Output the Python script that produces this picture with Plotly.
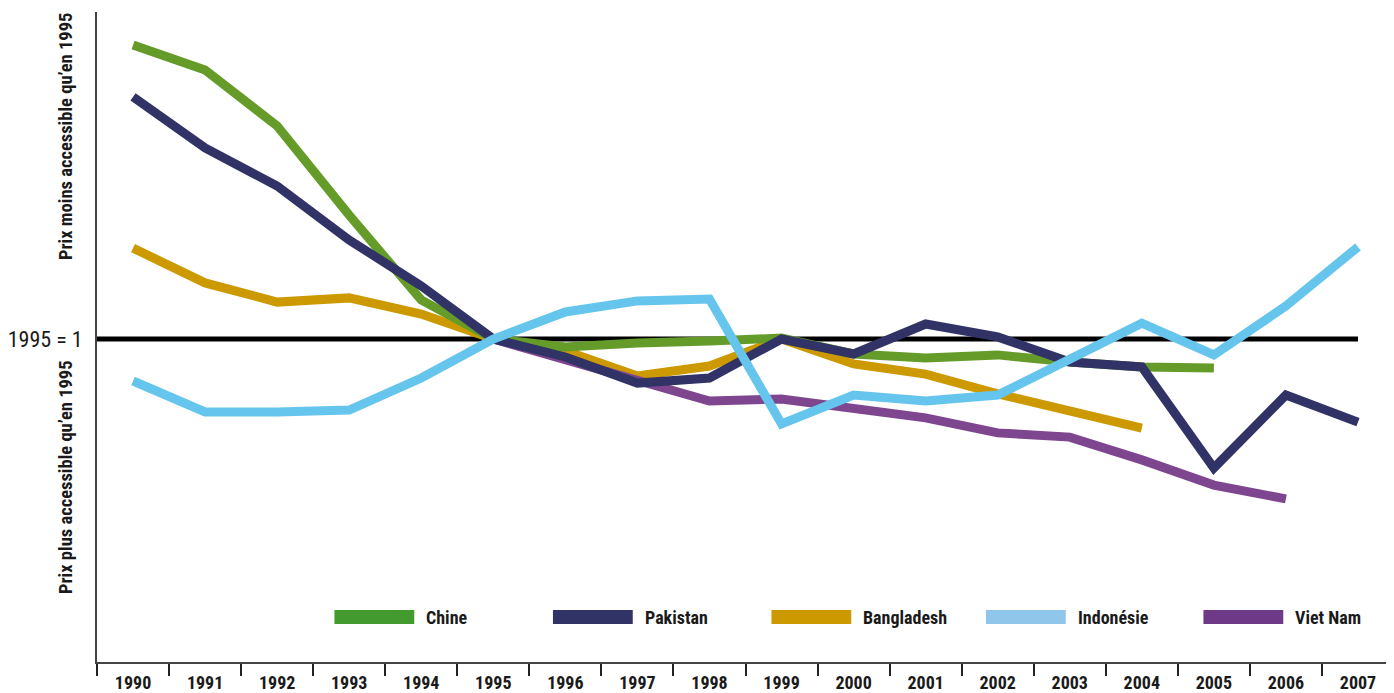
import plotly.graph_objects as go

years = [str(y) for y in range(1990, 2008)]

chine = [1.98, 1.897, 1.71, 1.413, 1.13, 1.0, 0.973, 0.987, 0.993, 1.003, 0.95, 0.937, 0.947, 0.923, 0.907, 0.903]
pakistan = [1.807, 1.637, 1.51, 1.33, 1.177, 1.0, 0.94, 0.853, 0.87, 1.0, 0.95, 1.05, 1.007, 0.923, 0.907, 0.57, 0.813, 0.723]
bangladesh = [1.303, 1.187, 1.123, 1.137, 1.083, 1.0, 0.96, 0.877, 0.91, 1.0, 0.917, 0.883, 0.817, 0.763, 0.703]
indonesie = [0.86, 0.757, 0.757, 0.763, 0.87, 1.0, 1.09, 1.127, 1.133, 0.717, 0.813, 0.793, 0.813, 0.933, 1.053, 0.947, 1.11, 1.307]
vietnam_years = [str(y) for y in range(1995, 2007)]
vietnam = [1.0, 0.93, 0.863, 0.793, 0.8, 0.77, 0.737, 0.687, 0.673, 0.597, 0.513, 0.467]

names = ["Chine", "Pakistan", "Bangladesh", "Indonésie", "Viet Nam"]
line_colors = ["#659c29", "#313366", "#cc9a00", "#66c5ec", "#7f4690"]
legend_colors = ["#439a2f", "#313366", "#cc9a00", "#8fc6ea", "#6e3a87"]

FONT = "Liberation Sans Narrow, Roboto Condensed, Arial Narrow, Liberation Sans, sans-serif"
TXT = "#1a1a1a"

fig = go.Figure()
series = [
    (years[:len(chine)], chine),
    (years[:len(pakistan)], pakistan),
    (years[:len(bangladesh)], bangladesh),
    (years[:len(indonesie)], indonesie),
    (vietnam_years, vietnam),
]
order = [2, 0, 4, 1, 3]
for i in order:
    xs, ys = series[i]
    fig.add_trace(go.Scatter(x=xs, y=ys, mode="lines", name=names[i],
                             line=dict(color=line_colors[i], width=9),
                             showlegend=False, hoverinfo="skip"))

# reference line
fig.add_shape(type="line", xref="x", yref="y", x0=-0.5, x1=17, y0=1, y1=1,
              line=dict(color="black", width=5), layer="below")

# page is offset by the 8px body margin
L, W, T, H = 86, 1300, 4, 650
def px(x):
    return (x - 8 - L) / W
def py(y):
    return (T + H - (y - 8)) / H

leg_x = [332, 551, 770, 985, 1203]
for i, n in enumerate(names):
    fig.add_shape(type="rect", xref="paper", yref="paper",
                  x0=px(leg_x[i]), x1=px(leg_x[i] + 80), y0=py(624), y1=py(610),
                  fillcolor=legend_colors[i], line=dict(width=0))
    fig.add_annotation(xref="paper", yref="paper", x=px(leg_x[i] + 90), y=py(617),
                       text="<b>" + n + "</b>", showarrow=False, xanchor="left",
                       yanchor="middle", font=dict(family=FONT, size=18, color=TXT))

fig.add_annotation(xref="paper", yref="paper", x=px(63), y=py(137),
                   text="<b>Prix moins accessible qu’en 1995</b>", textangle=-90,
                   showarrow=False, xanchor="center", yanchor="middle",
                   font=dict(family=FONT, size=18.5, color=TXT))
fig.add_annotation(xref="paper", yref="paper", x=px(63), y=py(477),
                   text="<b>Prix plus accessible qu’en 1995</b>", textangle=-90,
                   showarrow=False, xanchor="center", yanchor="middle",
                   font=dict(family=FONT, size=18.5, color=TXT))

fig.update_layout(
    width=L + W, height=685,
    margin=dict(l=L, r=0, t=T, b=685 - T - H),
    paper_bgcolor="white", plot_bgcolor="white",
    font=dict(family=FONT, color=TXT),
    xaxis=dict(type="category", categoryorder="array", categoryarray=years,
               tickmode="array", tickvals=years,
               ticktext=["<b>" + y + "</b>" for y in years],
               tickson="boundaries", ticks="outside", ticklen=12, tickwidth=2,
               tickcolor="#222", showline=True, linecolor="#444", linewidth=2,
               showgrid=False, zeroline=False, range=[-0.5, 17.5],
               tickfont=dict(family=FONT, size=18, color=TXT), ticklabelstandoff=3),
    yaxis=dict(range=[-0.0767, 2.09], tickmode="array", tickvals=[1],
               ticktext=["1995 = 1"], ticks="", showgrid=False, zeroline=False,
               showline=True, linecolor="#444", linewidth=2,
               tickfont=dict(family=FONT, size=22, color=TXT), ticklabelstandoff=8),
)

fig.write_html("out.html")
